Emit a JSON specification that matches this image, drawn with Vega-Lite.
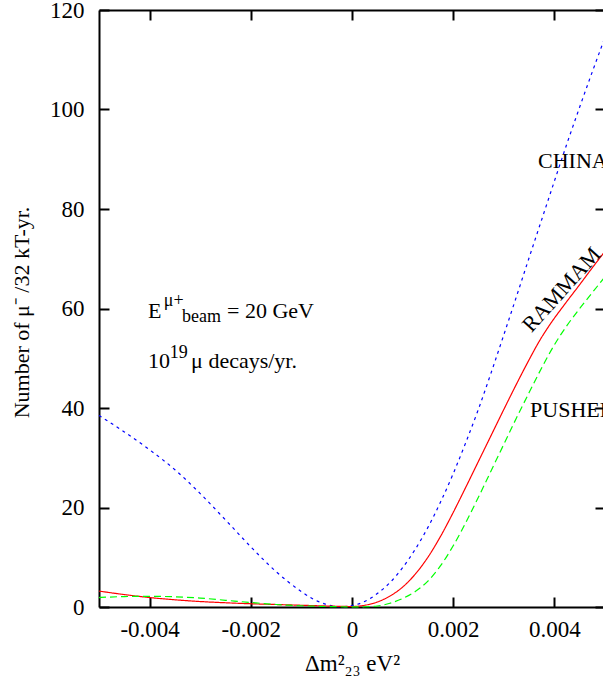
{
  "$schema": "https://vega.github.io/schema/vega-lite/v6.json",
  "width": 506,
  "height": 597,
  "autosize": {"type": "none"},
  "padding": {"left": 99, "top": 10, "right": 0, "bottom": 77},
  "background": "white",
  "config": {
    "font": "Liberation Serif",
    "view": {"stroke": null},
    "axis": {
      "grid": false,
      "domainColor": "black",
      "domainWidth": 2,
      "tickColor": "black",
      "tickWidth": 2,
      "tickSize": -10,
      "labelFont": "Liberation Serif",
      "labelFontSize": 23,
      "labelColor": "black",
      "labelFlush": false,
      "labelOverlap": false,
      "titleFont": "Liberation Serif",
      "titleFontSize": 22,
      "titleFontWeight": "normal",
      "titleColor": "black"
    }
  },
  "datasets": {
    "curves": [
      {"x": -0.005, "n": 38.5, "s": "CHINA"},
      {"x": -0.0045, "n": 35.2, "s": "CHINA"},
      {"x": -0.004, "n": 31.6, "s": "CHINA"},
      {"x": -0.0035, "n": 27.6, "s": "CHINA"},
      {"x": -0.003, "n": 22.8, "s": "CHINA"},
      {"x": -0.0025, "n": 17.5, "s": "CHINA"},
      {"x": -0.002, "n": 12.1, "s": "CHINA"},
      {"x": -0.0015, "n": 7.1, "s": "CHINA"},
      {"x": -0.001, "n": 3.1, "s": "CHINA"},
      {"x": -0.00075, "n": 1.5, "s": "CHINA"},
      {"x": -0.0005, "n": 0.5, "s": "CHINA"},
      {"x": -0.00025, "n": 0.05, "s": "CHINA"},
      {"x": 0, "n": 0.3, "s": "CHINA"},
      {"x": 0.00025, "n": 1.1, "s": "CHINA"},
      {"x": 0.0005, "n": 2.7, "s": "CHINA"},
      {"x": 0.00075, "n": 4.9, "s": "CHINA"},
      {"x": 0.001, "n": 7.9, "s": "CHINA"},
      {"x": 0.00125, "n": 11.6, "s": "CHINA"},
      {"x": 0.0015, "n": 16.0, "s": "CHINA"},
      {"x": 0.00175, "n": 21.1, "s": "CHINA"},
      {"x": 0.002, "n": 26.8, "s": "CHINA"},
      {"x": 0.00225, "n": 33.1, "s": "CHINA"},
      {"x": 0.0025, "n": 39.8, "s": "CHINA"},
      {"x": 0.00275, "n": 47.1, "s": "CHINA"},
      {"x": 0.003, "n": 54.7, "s": "CHINA"},
      {"x": 0.00325, "n": 62.4, "s": "CHINA"},
      {"x": 0.0035, "n": 70.2, "s": "CHINA"},
      {"x": 0.00375, "n": 77.9, "s": "CHINA"},
      {"x": 0.004, "n": 85.6, "s": "CHINA"},
      {"x": 0.00425, "n": 93.2, "s": "CHINA"},
      {"x": 0.0045, "n": 100.5, "s": "CHINA"},
      {"x": 0.00475, "n": 107.6, "s": "CHINA"},
      {"x": 0.005, "n": 114.5, "s": "CHINA"},
      {"x": -0.005, "n": 3.2, "s": "RAMMAM"},
      {"x": -0.0045, "n": 2.5, "s": "RAMMAM"},
      {"x": -0.004, "n": 1.9, "s": "RAMMAM"},
      {"x": -0.0035, "n": 1.45, "s": "RAMMAM"},
      {"x": -0.003, "n": 1.1, "s": "RAMMAM"},
      {"x": -0.0025, "n": 0.85, "s": "RAMMAM"},
      {"x": -0.002, "n": 0.65, "s": "RAMMAM"},
      {"x": -0.0015, "n": 0.5, "s": "RAMMAM"},
      {"x": -0.001, "n": 0.35, "s": "RAMMAM"},
      {"x": -0.0005, "n": 0.2, "s": "RAMMAM"},
      {"x": 0, "n": 0.1, "s": "RAMMAM"},
      {"x": 0.00025, "n": 0.35, "s": "RAMMAM"},
      {"x": 0.0005, "n": 1.0, "s": "RAMMAM"},
      {"x": 0.00075, "n": 2.2, "s": "RAMMAM"},
      {"x": 0.001, "n": 4.0, "s": "RAMMAM"},
      {"x": 0.00125, "n": 6.6, "s": "RAMMAM"},
      {"x": 0.0015, "n": 10.0, "s": "RAMMAM"},
      {"x": 0.00175, "n": 14.2, "s": "RAMMAM"},
      {"x": 0.002, "n": 19.0, "s": "RAMMAM"},
      {"x": 0.00225, "n": 24.1, "s": "RAMMAM"},
      {"x": 0.0025, "n": 29.3, "s": "RAMMAM"},
      {"x": 0.00275, "n": 34.5, "s": "RAMMAM"},
      {"x": 0.003, "n": 39.7, "s": "RAMMAM"},
      {"x": 0.00325, "n": 44.8, "s": "RAMMAM"},
      {"x": 0.0035, "n": 49.7, "s": "RAMMAM"},
      {"x": 0.0037, "n": 53.4, "s": "RAMMAM"},
      {"x": 0.0039, "n": 56.6, "s": "RAMMAM"},
      {"x": 0.0042, "n": 60.8, "s": "RAMMAM"},
      {"x": 0.0045, "n": 64.8, "s": "RAMMAM"},
      {"x": 0.00475, "n": 68.2, "s": "RAMMAM"},
      {"x": 0.005, "n": 71.5, "s": "RAMMAM"},
      {"x": -0.005, "n": 1.9, "s": "PUSHEP"},
      {"x": -0.0045, "n": 2.1, "s": "PUSHEP"},
      {"x": -0.004, "n": 2.15, "s": "PUSHEP"},
      {"x": -0.0035, "n": 2.05, "s": "PUSHEP"},
      {"x": -0.003, "n": 1.8, "s": "PUSHEP"},
      {"x": -0.0025, "n": 1.35, "s": "PUSHEP"},
      {"x": -0.002, "n": 0.9, "s": "PUSHEP"},
      {"x": -0.0015, "n": 0.5, "s": "PUSHEP"},
      {"x": -0.001, "n": 0.25, "s": "PUSHEP"},
      {"x": -0.0005, "n": 0.1, "s": "PUSHEP"},
      {"x": 0, "n": 0.03, "s": "PUSHEP"},
      {"x": 0.00025, "n": 0.05, "s": "PUSHEP"},
      {"x": 0.0005, "n": 0.2, "s": "PUSHEP"},
      {"x": 0.00075, "n": 0.75, "s": "PUSHEP"},
      {"x": 0.001, "n": 1.7, "s": "PUSHEP"},
      {"x": 0.00125, "n": 3.1, "s": "PUSHEP"},
      {"x": 0.0015, "n": 5.2, "s": "PUSHEP"},
      {"x": 0.00175, "n": 8.3, "s": "PUSHEP"},
      {"x": 0.002, "n": 12.3, "s": "PUSHEP"},
      {"x": 0.00225, "n": 17.0, "s": "PUSHEP"},
      {"x": 0.0025, "n": 22.1, "s": "PUSHEP"},
      {"x": 0.00275, "n": 27.4, "s": "PUSHEP"},
      {"x": 0.003, "n": 32.7, "s": "PUSHEP"},
      {"x": 0.00325, "n": 38.0, "s": "PUSHEP"},
      {"x": 0.0035, "n": 43.1, "s": "PUSHEP"},
      {"x": 0.00375, "n": 48.1, "s": "PUSHEP"},
      {"x": 0.004, "n": 52.7, "s": "PUSHEP"},
      {"x": 0.00425, "n": 56.6, "s": "PUSHEP"},
      {"x": 0.0045, "n": 60.0, "s": "PUSHEP"},
      {"x": 0.00475, "n": 63.2, "s": "PUSHEP"},
      {"x": 0.005, "n": 66.4, "s": "PUSHEP"}
    ],
    "labels": [
      {"x": 0.003676, "n": 88.2, "t": "CHINA"},
      {"x": 0.00352, "n": 38.2, "t": "PUSHEP"}
    ],
    "rotlabel": [
      {"x": 0.00414, "n": 63.8, "t": "RAMMAM"}
    ],
    "bigtext": [
      {"x": -0.004032, "n": 58.1, "t": "E"},
      {"x": -0.00247, "n": 58.1, "t": "= 20 GeV"},
      {"x": -0.004032, "n": 48.0, "t": "10"},
      {"x": -0.00318, "n": 48.0, "t": "μ decays/yr."}
    ],
    "smalltext": [
      {"x": -0.00372, "n": 60.5, "t": "μ+"},
      {"x": -0.00336, "n": 57.3, "t": "beam"},
      {"x": -0.0036, "n": 50.0, "t": "19"}
    ]
  },
  "resolve": {"axis": {"x": "independent", "y": "independent"}},
  "layer": [
    {
      "data": {"name": "curves"},
      "mark": {"type": "line", "strokeWidth": 1.2, "interpolate": "monotone"},
      "encoding": {
        "x": {
          "field": "x", "type": "quantitative",
          "scale": {"domain": [-0.005, 0.005], "nice": false, "zero": false},
          "axis": {
            "orient": "bottom",
            "values": [-0.004, -0.002, 0, 0.002, 0.004],
            "labelExpr": "datum.value == 0 ? '0' : '' + datum.value",
            "labelPadding": 21,
            "title": "Δm²₂₃ eV²",
            "titleFontSize": 23,
            "titleX": 253,
            "titleY": 63,
            "titleBaseline": "alphabetic"
          }
        },
        "y": {
          "field": "n", "type": "quantitative",
          "scale": {"domain": [0, 120], "nice": false},
          "axis": {
            "orient": "left",
            "values": [0, 20, 40, 60, 80, 100, 120],
            "labelPadding": 25,
            "title": "Number of μ⁻ /32 kT-yr.",
            "titleX": -71,
            "titleY": 302,
            "titleBaseline": "alphabetic"
          }
        },
        "color": {
          "field": "s", "type": "nominal",
          "scale": {"domain": ["CHINA", "RAMMAM", "PUSHEP"], "range": ["#0000ff", "#ff0000", "#00ff00"]},
          "legend": null
        },
        "strokeDash": {
          "field": "s", "type": "nominal",
          "scale": {"domain": ["CHINA", "RAMMAM", "PUSHEP"], "range": [[3, 4], [1, 0], [7, 4]]},
          "legend": null
        }
      }
    },
    {
      "data": {"name": "labels"},
      "mark": {"type": "text", "fontSize": 22, "align": "left", "baseline": "alphabetic", "color": "black"},
      "encoding": {
        "x": {
          "field": "x", "type": "quantitative",
          "scale": {"domain": [-0.005, 0.005], "nice": false, "zero": false},
          "axis": {"orient": "top", "values": [-0.004, -0.002, 0, 0.002, 0.004], "labels": false, "title": null}
        },
        "y": {
          "field": "n", "type": "quantitative",
          "scale": {"domain": [0, 120], "nice": false},
          "axis": {"orient": "right", "values": [0, 20, 40, 60, 80, 100, 120], "labels": false, "title": null}
        },
        "text": {"field": "t"}
      }
    },
    {
      "data": {"name": "rotlabel"},
      "mark": {"type": "text", "fontSize": 22, "align": "center", "baseline": "middle", "angle": -48, "color": "black"},
      "encoding": {
        "x": {"field": "x", "type": "quantitative", "scale": {"domain": [-0.005, 0.005], "nice": false, "zero": false}, "axis": null},
        "y": {"field": "n", "type": "quantitative", "scale": {"domain": [0, 120], "nice": false}, "axis": null},
        "text": {"field": "t"}
      }
    },
    {
      "data": {"name": "bigtext"},
      "mark": {"type": "text", "fontSize": 22, "align": "left", "baseline": "alphabetic", "color": "black"},
      "encoding": {
        "x": {"field": "x", "type": "quantitative", "scale": {"domain": [-0.005, 0.005], "nice": false, "zero": false}, "axis": null},
        "y": {"field": "n", "type": "quantitative", "scale": {"domain": [0, 120], "nice": false}, "axis": null},
        "text": {"field": "t"}
      }
    },
    {
      "data": {"name": "smalltext"},
      "mark": {"type": "text", "fontSize": 18, "align": "left", "baseline": "alphabetic", "color": "black"},
      "encoding": {
        "x": {"field": "x", "type": "quantitative", "scale": {"domain": [-0.005, 0.005], "nice": false, "zero": false}, "axis": null},
        "y": {"field": "n", "type": "quantitative", "scale": {"domain": [0, 120], "nice": false}, "axis": null},
        "text": {"field": "t"}
      }
    }
  ]
}
